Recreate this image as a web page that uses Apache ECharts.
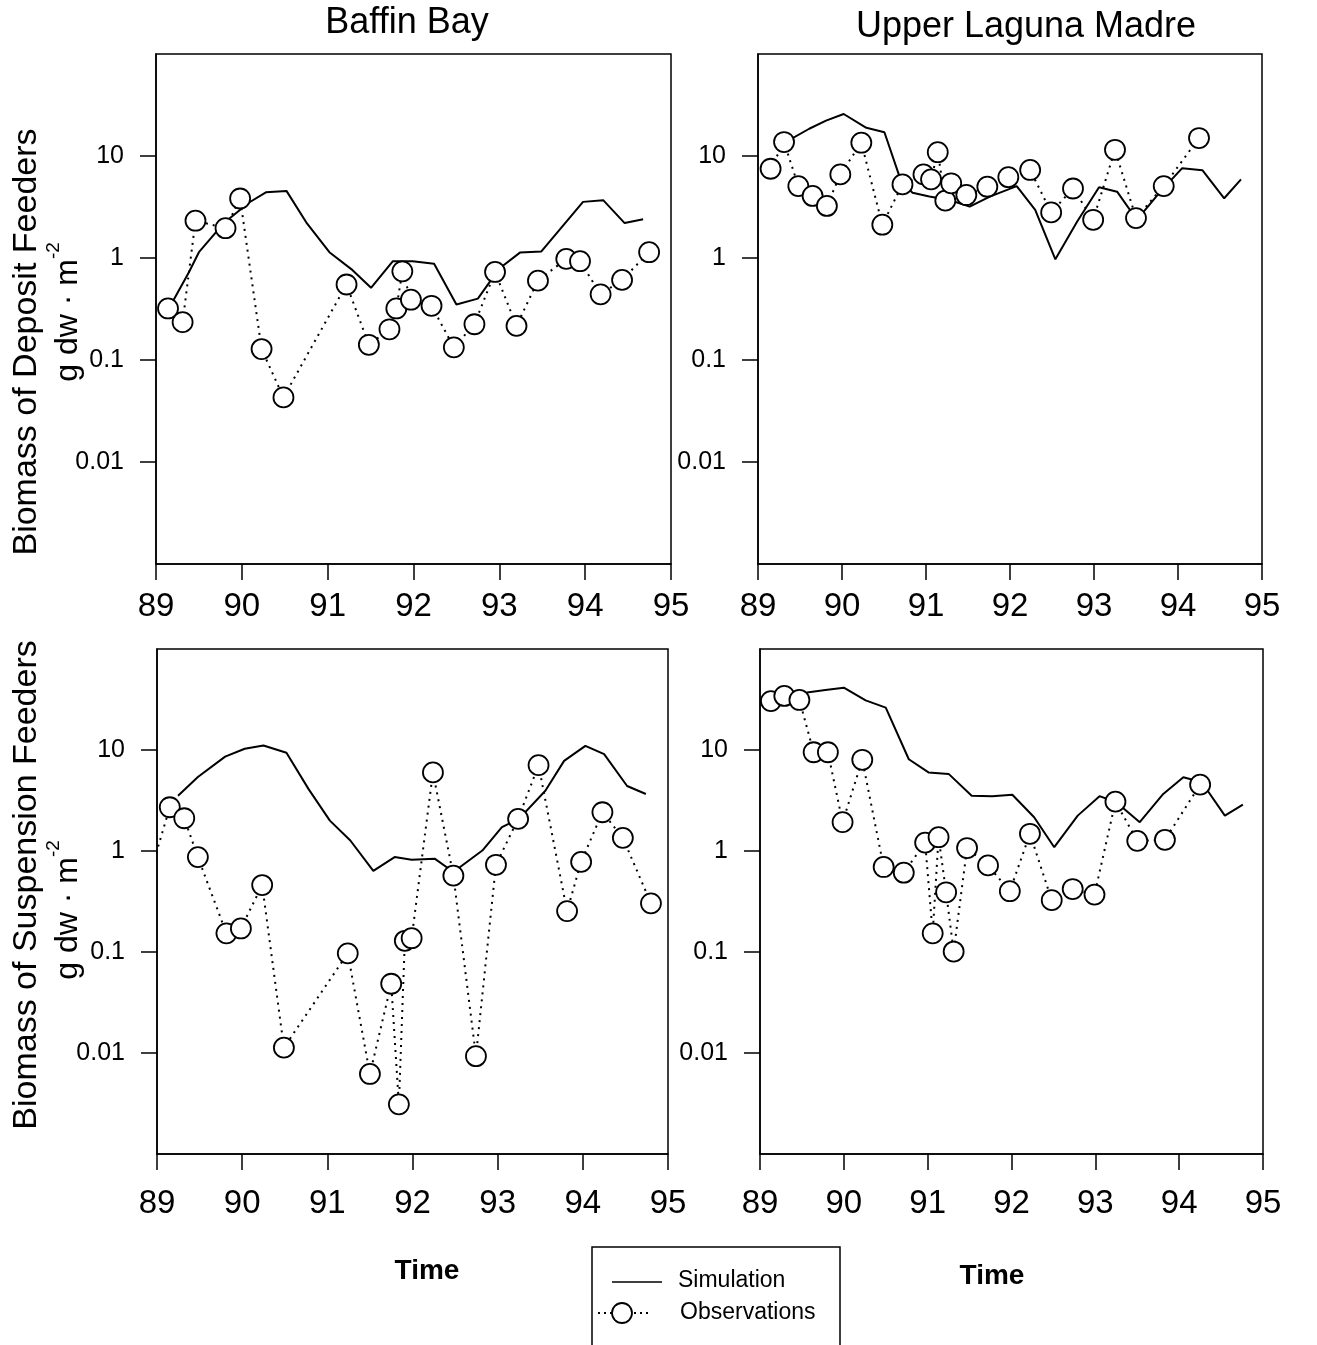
<!DOCTYPE html>
<html>
<head>
<meta charset="utf-8">
<script src="https://cdn.jsdelivr.net/npm/echarts@6/dist/echarts.min.js"></script>
<style>
html,body{margin:0;padding:0;background:#fff;}
#chart{width:1317px;height:1345px;}
</style>
</head>
<body>
<div id="chart"></div>
<script>
// ---------------- DATA ----------------
const panelTitles = ['Baffin Bay', 'Upper Laguna Madre'];
const rowTitles = ['Biomass of Deposit Feeders', 'Biomass of Suspension Feeders'];
const legendNames = ['Simulation', 'Observations'];
const xTickValues = [89, 90, 91, 92, 93, 94, 95];
const yTickValues = [0.01, 0.1, 1, 10];

// Baffin Bay - deposit feeders
const bbDepSimX = [89.15, 89.385, 89.50, 89.70, 89.87, 90.085, 90.28, 90.52, 90.75, 91.02, 91.29, 91.505, 91.76, 91.99, 92.24, 92.50, 92.75, 93.0, 93.24, 93.49, 93.975, 94.21, 94.46, 94.675];
const bbDepSimY = [0.32, 0.73, 1.14, 1.79, 2.5, 3.5, 4.4, 4.55, 2.24, 1.14, 0.76, 0.51, 0.93, 0.93, 0.88, 0.35, 0.40, 0.79, 1.13, 1.16, 3.55, 3.69, 2.2, 2.4];
const bbDepObsX = [89.14, 89.31, 89.46, 89.81, 89.98, 90.23, 90.485, 91.22, 91.48, 91.72, 91.80, 91.87, 91.97, 92.21, 92.47, 92.71, 92.95, 93.20, 93.45, 93.78, 93.94, 94.18, 94.43, 94.745];
const bbDepObsY = [0.32, 0.235, 2.32, 1.96, 3.83, 0.128, 0.043, 0.55, 0.141, 0.2, 0.32, 0.74, 0.39, 0.34, 0.133, 0.224, 0.73, 0.216, 0.6, 0.98, 0.93, 0.44, 0.61, 1.14];

// Upper Laguna Madre - deposit feeders
const ulmDepSimX = [89.28, 89.61, 89.81, 90.02, 90.29, 90.505, 90.705, 90.84, 91.04, 91.28, 91.52, 91.76, 92.08, 92.30, 92.54, 92.80, 93.06, 93.275, 93.51, 93.79, 94.05, 94.29, 94.55, 94.75];
const ulmDepSimY = [13, 18.5, 22.2, 25.8, 18.9, 17.1, 5.6, 4.37, 4.0, 3.7, 3.19, 4.0, 5.07, 2.96, 0.97, 2.28, 4.93, 4.47, 2.37, 4.47, 7.6, 7.26, 3.85, 5.9];
const ulmDepObsX = [89.15, 89.31, 89.48, 89.65, 89.82, 89.98, 90.23, 90.48, 90.72, 90.97, 91.06, 91.14, 91.23, 91.30, 91.48, 91.73, 91.98, 92.24, 92.49, 92.75, 92.99, 93.25, 93.50, 93.83, 94.25];
const ulmDepObsY = [7.5, 13.7, 5.07, 4.06, 3.24, 6.6, 13.5, 2.12, 5.27, 6.6, 5.9, 10.9, 3.65, 5.4, 4.15, 5.0, 6.2, 7.3, 2.8, 4.8, 2.37, 11.5, 2.46, 5.07, 15];

// Baffin Bay - suspension feeders
const bbSusSimX = [89.247, 89.48, 89.80, 90.03, 90.25, 90.52, 90.78, 91.03, 91.27, 91.54, 91.79, 91.99, 92.26, 92.48, 92.82, 93.05, 93.25, 93.56, 93.78, 94.03, 94.25, 94.52, 94.74];
const bbSusSimY = [3.53, 5.4, 8.6, 10.3, 11.1, 9.4, 4.1, 2.0, 1.27, 0.635, 0.87, 0.82, 0.84, 0.62, 1.01, 1.72, 2.08, 3.95, 7.8, 11, 9.1, 4.4, 3.67];
const bbSusObsX = [88.92, 89.15, 89.32, 89.48, 89.815, 89.985, 90.235, 90.49, 91.24, 91.50, 91.75, 91.84, 91.91, 91.99, 92.24, 92.48, 92.745, 92.98, 93.24, 93.48, 93.815, 93.98, 94.23, 94.47, 94.80];
const bbSusObsY = [0.6, 2.71, 2.11, 0.87, 0.153, 0.171, 0.46, 0.0113, 0.097, 0.0062, 0.0485, 0.0031, 0.129, 0.137, 6.0, 0.57, 0.0093, 0.73, 2.08, 7.08, 0.254, 0.78, 2.42, 1.35, 0.303];

// Upper Laguna Madre - suspension feeders
const ulmSusSimX = [89.46, 89.56, 89.78, 90.0, 90.26, 90.50, 90.775, 91.01, 91.25, 91.525, 91.77, 92.01, 92.27, 92.51, 92.79, 93.05, 93.25, 93.53, 93.81, 94.05, 94.27, 94.545, 94.76];
const ulmSusSimY = [31.8, 37, 39.2, 41.4, 31, 26.3, 8.1, 6.0, 5.8, 3.53, 3.49, 3.6, 2.16, 1.09, 2.24, 3.49, 3.04, 1.93, 3.67, 5.37, 4.8, 2.24, 2.88];
const ulmSusObsX = [89.13, 89.29, 89.47, 89.64, 89.81, 89.985, 90.22, 90.475, 90.715, 90.97, 91.06, 91.13, 91.22, 91.31, 91.47, 91.72, 91.98, 92.22, 92.48, 92.73, 92.99, 93.24, 93.50, 93.83, 94.25];
const ulmSusObsY = [30.5, 34.3, 31.3, 9.5, 9.5, 1.93, 8.0, 0.695, 0.61, 1.21, 0.153, 1.37, 0.39, 0.101, 1.07, 0.72, 0.40, 1.48, 0.326, 0.42, 0.37, 3.08, 1.26, 1.29, 4.54];

// ---------------- BUILD ----------------
const FONT = "'Liberation Sans', Arial, Helvetica, sans-serif";
const zip = (xs, ys) => xs.map((x, i) => [x, ys[i]]);

const panels = [
  { sim: zip(bbDepSimX, bbDepSimY), obs: zip(bbDepObsX, bbDepObsY), grid: { left: 156, top: 54, width: 515, height: 510 }, xMargin: 26 },
  { sim: zip(ulmDepSimX, ulmDepSimY), obs: zip(ulmDepObsX, ulmDepObsY), grid: { left: 758, top: 54, width: 504, height: 510 }, xMargin: 26 },
  { sim: zip(bbSusSimX, bbSusSimY), obs: zip(bbSusObsX, bbSusObsY), grid: { left: 157, top: 649, width: 511, height: 505 }, xMargin: 33 },
  { sim: zip(ulmSusSimX, ulmSusSimY), obs: zip(ulmSusObsX, ulmSusObsY), grid: { left: 760, top: 649, width: 503, height: 505 }, xMargin: 33 }
];

const axisLineStyle = { color: '#000', width: 1.5 };
const grids = [], xAxes = [], yAxes = [], series = [];
panels.forEach((p, i) => {
  grids.push(Object.assign({ show: true, borderColor: '#000', borderWidth: 1.5, backgroundColor: 'transparent', containLabel: false }, p.grid));
  xAxes.push({
    type: 'value', gridIndex: i, min: 89, max: 95, interval: 1,
    axisLine: { show: true, onZero: false, lineStyle: axisLineStyle },
    axisTick: { show: true, length: 16, lineStyle: axisLineStyle, customValues: xTickValues },
    axisLabel: { show: true, margin: p.xMargin, fontSize: 33, color: '#000', fontFamily: FONT, customValues: xTickValues, formatter: v => String(Math.round(v)) },
    splitLine: { show: false }
  });
  yAxes.push({
    type: 'log', logBase: 10, gridIndex: i, min: 0.001, max: 100,
    axisLine: { show: true, onZero: false, lineStyle: axisLineStyle },
    axisTick: { show: true, length: 16, lineStyle: axisLineStyle, customValues: yTickValues },
    axisLabel: { show: true, margin: 32, fontSize: 25, color: '#000', fontFamily: FONT, customValues: yTickValues,
      formatter: v => String(parseFloat(Number(v).toPrecision(3))) },
    splitLine: { show: false }, minorTick: { show: false }
  });
  series.push({
    type: 'line', name: legendNames[0], xAxisIndex: i, yAxisIndex: i, data: p.sim,
    symbol: 'none', lineStyle: { color: '#000', width: 2 }, itemStyle: { color: '#000' },
    z: 2, silent: true, animation: false, clip: true
  });
  series.push({
    type: 'line', name: legendNames[1], xAxisIndex: i, yAxisIndex: i, data: p.obs,
    symbol: 'circle', symbolSize: 20,
    itemStyle: { color: '#fff', borderColor: '#000', borderWidth: 1.8 },
    lineStyle: { color: '#000', width: 2, type: [2, 5] },
    z: 3, silent: true, animation: false, clip: true
  });
});

const supRich = { a: { fontSize: 32, fontFamily: FONT, fill: '#000', lineHeight: 40, verticalAlign: 'bottom' },
                  s: { fontSize: 19, fontFamily: FONT, fill: '#000', lineHeight: 40, verticalAlign: 'top' } };

const graphics = [
  { type: 'text', x: 407, y: 23, style: { text: panelTitles[0], font: `36px ${FONT}`, fill: '#000', textAlign: 'center', textVerticalAlign: 'middle' } },
  { type: 'text', x: 1026, y: 27, style: { text: panelTitles[1], font: `36px ${FONT}`, fill: '#000', textAlign: 'center', textVerticalAlign: 'middle' } },
  { type: 'text', x: 27, y: 342, rotation: Math.PI / 2, style: { text: rowTitles[0], font: `34px ${FONT}`, fill: '#000', textAlign: 'center', textVerticalAlign: 'middle' } },
  { type: 'text', x: 64, y: 312, rotation: Math.PI / 2, style: { text: '{a|g dw · m}{s|-2}', textAlign: 'center', textVerticalAlign: 'middle', rich: supRich } },
  { type: 'text', x: 27, y: 885, rotation: Math.PI / 2, style: { text: rowTitles[1], font: `34px ${FONT}`, fill: '#000', textAlign: 'center', textVerticalAlign: 'middle' } },
  { type: 'text', x: 64, y: 910, rotation: Math.PI / 2, style: { text: '{a|g dw · m}{s|-2}', textAlign: 'center', textVerticalAlign: 'middle', rich: supRich } },
  { type: 'text', x: 427, y: 1271, style: { text: 'Time', font: `bold 28px ${FONT}`, fill: '#000', textAlign: 'center', textVerticalAlign: 'middle' } },
  { type: 'text', x: 992, y: 1276, style: { text: 'Time', font: `bold 28px ${FONT}`, fill: '#000', textAlign: 'center', textVerticalAlign: 'middle' } },
  // legend box
  { type: 'rect', shape: { x: 592, y: 1247, width: 248, height: 130 }, style: { fill: '#fff', stroke: '#000', lineWidth: 1.5 }, z: 10 },
  { type: 'line', shape: { x1: 612, y1: 1282, x2: 662, y2: 1282 }, style: { stroke: '#000', lineWidth: 1.5 }, z: 11 },
  { type: 'text', x: 678, y: 1281, style: { text: legendNames[0], font: `23px ${FONT}`, fill: '#000', textAlign: 'left', textVerticalAlign: 'middle' }, z: 11 },
  { type: 'line', shape: { x1: 598, y1: 1313, x2: 648, y2: 1313 }, style: { stroke: '#000', lineWidth: 2, lineDash: [2, 4] }, z: 11 },
  { type: 'circle', shape: { cx: 622, cy: 1313, r: 10 }, style: { fill: '#fff', stroke: '#000', lineWidth: 1.8 }, z: 12 },
  { type: 'text', x: 680, y: 1313, style: { text: legendNames[1], font: `23px ${FONT}`, fill: '#000', textAlign: 'left', textVerticalAlign: 'middle' }, z: 11 }
];

const chart = echarts.init(document.getElementById('chart'), null, { renderer: 'canvas' });
chart.setOption({
  backgroundColor: '#fff',
  animation: false,
  color: ['#000'],
  textStyle: { fontFamily: FONT },
  grid: grids,
  xAxis: xAxes,
  yAxis: yAxes,
  series: series,
  graphic: graphics
});
</script>
</body>
</html>
